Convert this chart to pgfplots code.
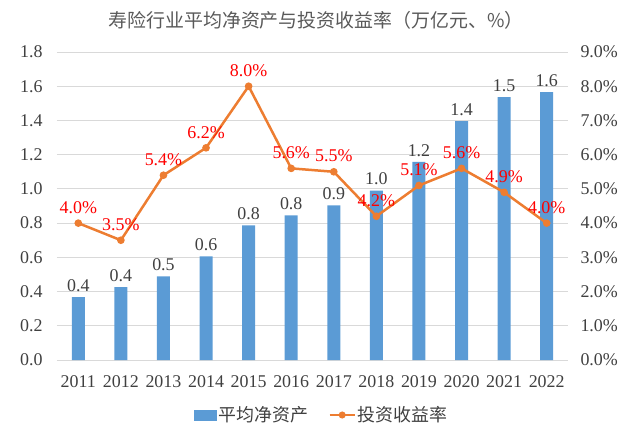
\documentclass[border=0pt]{standalone}
\usepackage{fontspec}
\setmainfont{Liberation Serif}
\newfontfamily\cjk{Noto Sans CJK SC}
\usepackage{pgfplots}
\pgfplotsset{compat=1.18}

\definecolor{barblue}{HTML}{5B9BD5}
\definecolor{lineorange}{HTML}{ED7D31}
\definecolor{gridgray}{HTML}{D9D9D9}
\definecolor{txtgray}{HTML}{404040}
\definecolor{titlegray}{HTML}{595959}
\definecolor{labred}{HTML}{FF0000}

\newcommand{\lbl}{\fontsize{18}{20}\selectfont}

\begin{document}
\begin{tikzpicture}
\useasboundingbox (-57bp,-75bp) rectangle (579bp,360bp);
\pgfplotsset{
  base/.style={
    width=511bp, height=308bp, scale only axis,
    xmin=-0.5, xmax=11.5,
    axis line style={draw=none},
    major tick length=0pt,
    clip=false,
    /pgf/number format/assume math mode=true,
    tick label style={font=\lbl, text=txtgray},
  }
}

% bars: average net assets (trillion yuan)
\begin{axis}[base,
    ymin=0, ymax=1.8, ytick distance=0.2,
    ymajorgrids, grid style={gridgray, line width=0.8bp},
    xtick={0,...,11},
    xticklabels={2011,2012,2013,2014,2015,2016,2017,2018,2019,2020,2021,2022},
    yticklabel style={/pgf/number format/fixed, /pgf/number format/fixed zerofill,
                      /pgf/number format/precision=1, xshift=-11bp},
    xticklabel style={yshift=-12bp},
    ybar, bar width=13bp,
  ]
  \addplot[fill=barblue, draw=none,
    nodes near coords={\pgfmathprintnumber[fixed,fixed zerofill,precision=1]{\pgfplotspointmeta}},
    nodes near coords style={font=\lbl, text=txtgray, yshift=2bp}]
    coordinates {(0,0.368) (1,0.426) (2,0.489) (3,0.605) (4,0.787) (5,0.845)
                 (6,0.904) (7,0.99) (8,1.158) (9,1.396) (10,1.536) (11,1.565)};
\end{axis}

% line: investment yield (%)
\begin{axis}[base,
    ymin=0, ymax=9, ytick distance=1,
    axis y line*=right, axis x line=none,
    yticklabel={\pgfmathprintnumber[fixed,fixed zerofill,precision=1]{\tick}\%},
    yticklabel style={xshift=9bp},
    legend style={at={(0.5186,-0.1786)}, anchor=center, draw=none, fill=none,
                  legend columns=2, font=\cjk\lbl, text=txtgray,
                  /tikz/every even column/.append style={column sep=18bp}},
  ]
  \addlegendimage{legend image code/.code={\fill[barblue] (0bp,-5bp) rectangle (22bp,5bp);}}
  \addlegendentry{平均净资产}
  \addplot[lineorange, line width=2.5bp, mark=*, mark size=2.5bp,
    mark options={fill=lineorange, draw=lineorange},
    legend image code/.code={\draw[lineorange, line width=2.5bp] (0bp,0bp) -- (25bp,0bp);
                             \fill[lineorange] (12.5bp,0bp) circle (2.2bp);},
    nodes near coords={\pgfmathprintnumber[fixed,fixed zerofill,precision=1]{\pgfplotspointmeta}\%},
    nodes near coords style={font=\lbl, text=labred, yshift=5bp}]
    coordinates {(0,4.0) (1,3.5) (2,5.4) (3,6.2) (4,8.0) (5,5.6)
                 (6,5.5) (7,4.2) (8,5.1) (9,5.6) (10,4.9) (11,4.0)};
  \addlegendentry{投资收益率}
\end{axis}

\node[font=\cjk\fontsize{19}{22}\selectfont, text=titlegray] at (259bp,340bp)
  {寿险行业平均净资产与投资收益率（万亿元、\%）};
\end{tikzpicture}
\end{document}
